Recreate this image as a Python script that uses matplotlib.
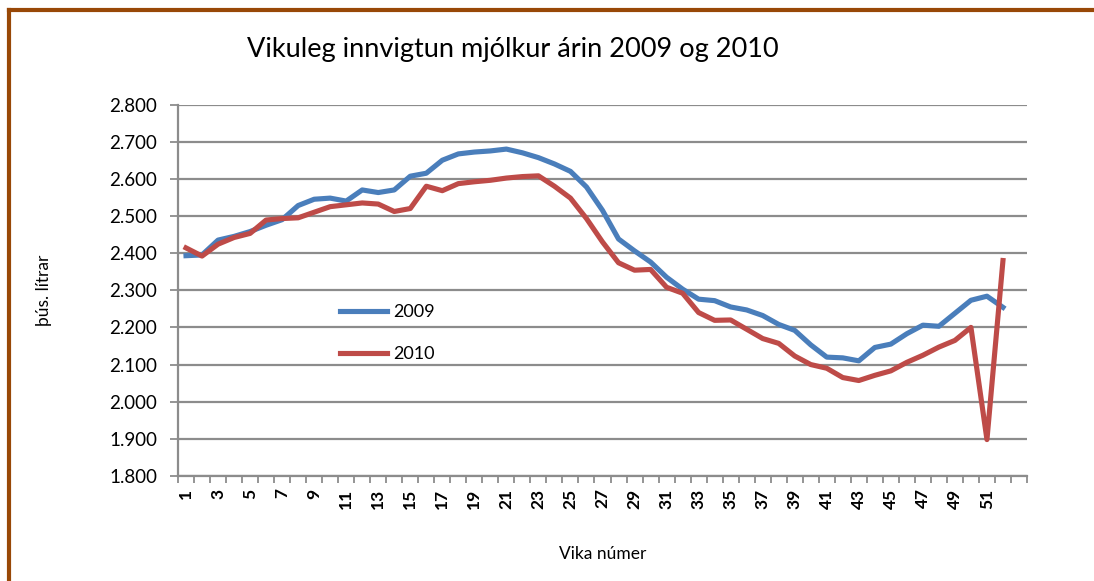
import matplotlib.pyplot as plt
from matplotlib.lines import Line2D
from matplotlib.ticker import FuncFormatter, FixedLocator
import numpy as np

plt.rcParams['font.family'] = ['Lato', 'DejaVu Sans']

# vikur 1-53 (vika 53 tóm)
vikur = list(range(1, 54))
tick_labels = [str(v) if v % 2 == 1 and v < 53 else '' for v in vikur]

# þús. lítrar
ar_2009 = [2393, 2395, 2435, 2445, 2458, 2475, 2490, 2528, 2545, 2548,
           2540, 2570, 2563, 2570, 2607, 2615, 2650, 2667, 2672, 2675,
           2680, 2670, 2657, 2640, 2620, 2578, 2515, 2438, 2406, 2376,
           2335, 2303, 2276, 2272, 2255, 2247, 2232, 2208, 2192, 2153,
           2120, 2118, 2110, 2146, 2155, 2183, 2206, 2203, 2238, 2273,
           2284, 2254]
ar_2010 = [2414, 2392, 2424, 2442, 2453, 2489, 2493, 2495, 2510, 2525,
           2530, 2535, 2532, 2512, 2520, 2580, 2568, 2587, 2592, 2596,
           2602, 2606, 2608, 2580, 2548, 2493, 2430, 2374, 2354, 2356,
           2308, 2292, 2240, 2219, 2220, 2195, 2170, 2157, 2123, 2100,
           2090, 2065, 2057, 2071, 2083, 2106, 2125, 2147, 2165, 2200,
           1898, 2380]

blue = '#4A7EBB'
red = '#BE4B48'
grid_c = '#8C8C8C'

fig = plt.figure(figsize=(10.94, 5.81), dpi=100)
ax = fig.add_axes([178 / 1094, 1 - 476 / 581, (1027 - 178) / 1094, (476 - 104.5) / 581])

ax.plot(vikur[:len(ar_2009)], ar_2009, color=blue, lw=3.7, solid_joinstyle='round', label='2009')
ax.plot(vikur[:len(ar_2010)], ar_2010, color=red, lw=3.7, solid_joinstyle='round', label='2010')

ax.set_xlim(0.5, 53.5)
ax.set_ylim(1800, 2800)
ax.set_yticks(np.arange(1800, 2801, 100))
ax.yaxis.set_major_formatter(FuncFormatter(lambda v, p: f'{int(v):,}'.replace(',', '.')))
ax.grid(axis='y', color=grid_c, lw=1.6)
ax.set_axisbelow(True)

ax.set_xticks(vikur)
ax.set_xticklabels(tick_labels, rotation=90, fontweight='bold', fontsize=12.5)
ax.xaxis.set_minor_locator(FixedLocator(np.arange(0.5, 54, 1)))
ax.tick_params(axis='x', which='major', length=0, pad=9)
ax.tick_params(axis='x', which='minor', length=5, width=1.3, color=grid_c)
ax.tick_params(axis='y', length=6, width=1.3, color=grid_c, labelsize=13.5, pad=9)

for s in ['top', 'right']:
    ax.spines[s].set_visible(False)
for s in ['left', 'bottom']:
    ax.spines[s].set_color(grid_c)
    ax.spines[s].set_linewidth(1.6)

ax.set_ylabel('þús. lítrar', fontsize=12.5, labelpad=41)
ax.set_xlabel('Vika númer', fontsize=12.5, labelpad=27)

fig.text(513 / 1094, 1 - 50 / 581, 'Vikuleg innvigtun mjólkur árin 2009 og 2010',
         fontsize=19.5, ha='center', va='center')

ax.legend(loc='center left', bbox_to_anchor=(340 / 1094, 1 - 333 / 581),
          bbox_transform=fig.transFigure, frameon=False, fontsize=13,
          handlelength=2.6, handletextpad=0.35, labelspacing=1.45,
          borderpad=0, borderaxespad=0)

# brúnn rammi
fig.add_artist(Line2D([9 / 1094, 9 / 1094], [0, 1 - 10 / 581], color='#984807', lw=3,
                      transform=fig.transFigure))
fig.add_artist(Line2D([9 / 1094, 1], [1 - 10 / 581, 1 - 10 / 581], color='#984807', lw=3,
                      transform=fig.transFigure))

fig.savefig('out.png', dpi=100)
